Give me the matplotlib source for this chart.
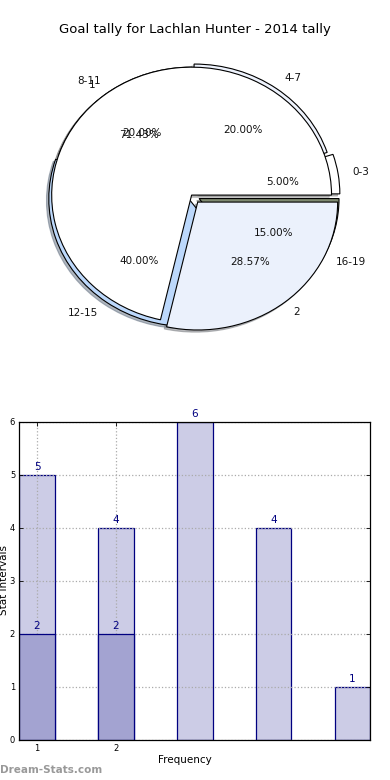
import matplotlib
matplotlib.use("Agg")
import matplotlib.pyplot as plt

# ---- data ----
title = "Goal tally for Lachlan Hunter - 2014 tally"

outer_labels = ['0-3', '4-7', '8-11', '12-15', '16-19']
outer_values = [1, 4, 4, 8, 3]
outer_explode = [0.06, 0.03, 0.0, 0.035, 0.06]
outer_colors = ['#ffffff', '#eef3fd', '#ffffff', '#bcd8fb', '#7f8a70']

inner_labels = ['1', '2']
inner_values = [5, 2]
inner_explode = [0.0, 0.07]
inner_colors = ['#ffffff', '#ebf1fc']

bar_categories = [1, 2, 3, 4, 5]
back_values = [5, 4, 6, 4, 1]
front_categories = [1, 2]
front_values = [2, 2]
xtick_positions = [1, 2]
xtick_labels = ['1', '2']
yticks = [0, 1, 2, 3, 4, 5, 6]

plt.rcParams['font.family'] = ['DejaVu Sans']

fig = plt.figure(figsize=(3.9, 7.8), dpi=100)

# ---- pie ----
axp = fig.add_axes([0.0428, 0.5449, 0.897, 0.410])
wp = {'edgecolor': 'black', 'linewidth': 0.8}
tp = {'fontsize': 7.5, 'color': '#111111'}
sh = {'ox': -0.012, 'oy': -0.012, 'shade': 0.5}
axp.pie(outer_values, explode=outer_explode, labels=outer_labels,
        colors=outer_colors, autopct='%.2f%%', shadow=sh, startangle=0,
        wedgeprops=wp, textprops=tp)
axp.pie(inner_values, explode=inner_explode, labels=inner_labels,
        colors=inner_colors, autopct='%.2f%%', shadow=sh, startangle=0,
        wedgeprops=wp, textprops=tp)
axp.set_aspect('auto')
axp.set_xlim(-1.25, 1.25)
axp.set_ylim(-1.25, 1.25)
axp.axis('off')

fig.text(195 / 390, 1 - 30 / 780, title, ha='center', va='center', fontsize=9.5)

# ---- bars ----
axb = fig.add_axes([0.0495, 0.0513, 0.9, 0.408])
w = 0.45
navy = '#000080'
axb.bar(bar_categories, back_values, width=w, color='#ccccE6', edgecolor=navy,
        linewidth=0.9, zorder=2)
axb.bar(front_categories, front_values, width=w, color='#a3a3d1', edgecolor=navy,
        linewidth=0.9, zorder=3)
for x, v in zip(bar_categories, back_values):
    axb.text(x, v + 0.06, str(v), ha='center', va='bottom', color=navy,
             fontsize=7.5, zorder=5, clip_on=False)
for x, v in zip(front_categories, front_values):
    axb.text(x, v + 0.06, str(v), ha='center', va='bottom', color=navy,
             fontsize=7.5, zorder=5)

axb.set_xlim(bar_categories[0] - w / 2, bar_categories[-1] + w / 2)
axb.set_ylim(0, 6)
axb.set_xticks(xtick_positions)
axb.set_xticklabels(xtick_labels)
axb.set_yticks(yticks)
axb.tick_params(direction='in', length=3, width=0.6, labelsize=6,
                top=True, right=True, pad=3)
axb.grid(True, linestyle=':', color='#aaaaaa', linewidth=0.9, zorder=4)
axb.set_axisbelow(False)
for s in axb.spines.values():
    s.set_linewidth(0.9)
    s.set_zorder(6)

fig.text(185 / 390, 1 - 760 / 780, 'Frequency', ha='center', va='center', fontsize=7.5)
fig.text(4 / 390, 1 - 580 / 780, 'Stat Intervals', ha='center', va='center',
         rotation=90, fontsize=7.5)

fig.text(0.0, 1 - 770 / 780, 'Dream-Stats.com', ha='left', va='center',
         fontsize=7.5, fontweight='bold', color='#999999')

fig.savefig('out.png', dpi=100)
